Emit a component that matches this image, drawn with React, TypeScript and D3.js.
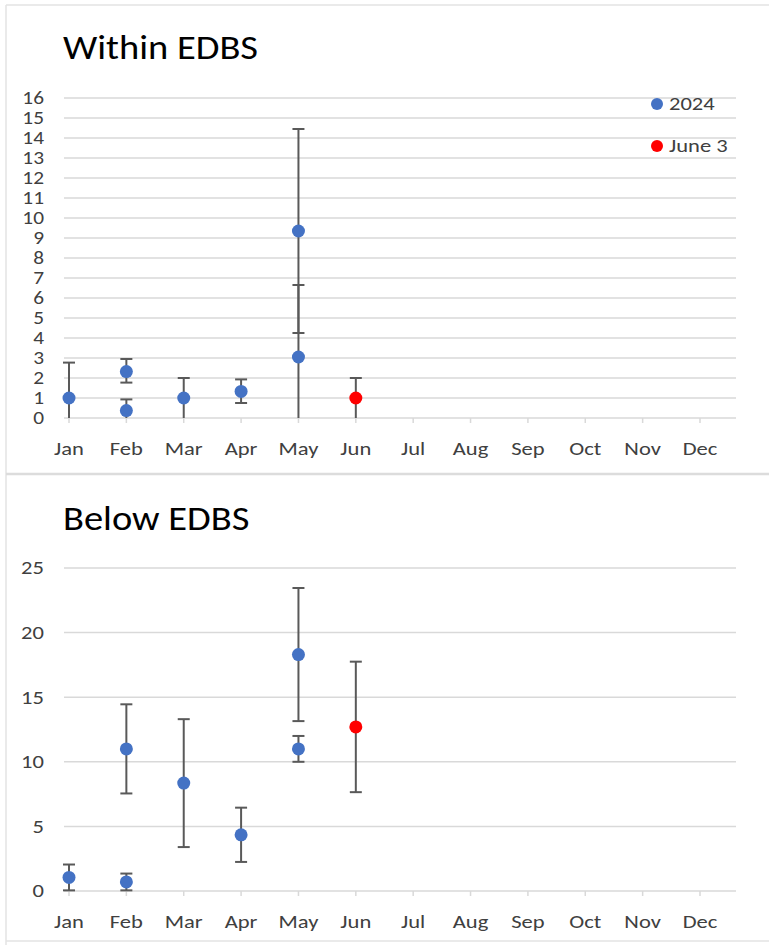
import React from "react";
import * as d3 from "d3";

const months = ["Jan", "Feb", "Mar", "Apr", "May", "Jun", "Jul", "Aug", "Sep", "Oct", "Nov", "Dec"];

// Within EDBS
const withinMonth = ["Jan", "Feb", "Feb", "Mar", "Apr", "May", "May"];
const withinValue = [1.0, 2.32, 0.37, 1.0, 1.33, 9.35, 3.05];
const withinErrUp = [1.77, 0.63, 0.56, 1.0, 0.6, 5.1, 3.6];
const withinErrDown = [1.77, 0.55, 0.56, 1.0, 0.58, 5.1, 3.6];
const withinJuneMonth = ["Jun"];
const withinJuneValue = [1.0];
const withinJuneErrUp = [1.0];
const withinJuneErrDown = [1.0];
const withinTicks = d3.range(0, 17);

// Below EDBS
const belowMonth = ["Jan", "Feb", "Feb", "Mar", "Apr", "May", "May"];
const belowValue = [1.05, 11.0, 0.7, 8.35, 4.35, 18.3, 11.0];
const belowErrUp = [1.0, 3.45, 0.65, 4.95, 2.1, 5.15, 1.0];
const belowErrDown = [1.0, 3.45, 0.65, 4.95, 2.1, 5.15, 1.0];
const belowJuneMonth = ["Jun"];
const belowJuneValue = [12.7];
const belowJuneErrUp = [5.05];
const belowJuneErrDown = [5.05];
const belowTicks = [0, 5, 10, 15, 20, 25];

const legendLabels = ["2024", "June 3"];

const BLUE = "#4472C4";
const RED = "#FF0000";
const GRID = "#D9D9D9";
const ERR = "#595959";
const TXT = "#404040";
const FONT = "Carlito, Lato, 'Open Sans', sans-serif";
const SX = 1.22;

const x = d3.scalePoint<string>().domain(months).range([69, 700]);
const AX_L = 64;
const AX_R = 736;

type Pt = { m: string; v: number; up: number; dn: number };

function zip(ms: string[], vs: number[], ups: number[], dns: number[]): Pt[] {
  return ms.map((m, i) => ({ m, v: vs[i], up: ups[i], dn: dns[i] }));
}

function T({
  x: tx,
  y: ty,
  size,
  anchor = "start",
  sx = SX,
  fill = TXT,
  dy,
  children,
}: {
  x: number;
  y: number;
  size: number;
  anchor?: string;
  sx?: number;
  fill?: string;
  dy?: string;
  children: React.ReactNode;
}) {
  return (
    <text
      transform={`translate(${tx},${ty}) scale(${sx},1)`}
      x={0}
      y={0}
      dy={dy}
      textAnchor={anchor}
      fontSize={size}
      fill={fill}
    >
      {children}
    </text>
  );
}

function Points({ pts, y, color }: { pts: Pt[]; y: d3.ScaleLinear<number, number>; color: string }) {
  return (
    <g>
      {pts.map((p, i) => {
        const cx = x(p.m)!;
        const hi = p.v + p.up;
        const loRaw = p.v - p.dn;
        const lo = Math.max(0, loRaw);
        return (
          <g key={"e" + i}>
            <line x1={cx} x2={cx} y1={y(hi)} y2={y(lo)} stroke={ERR} strokeWidth={2} />
            <line x1={cx - 6} x2={cx + 6} y1={y(hi)} y2={y(hi)} stroke={ERR} strokeWidth={2} />
            {loRaw > 0.02 && (
              <line x1={cx - 6} x2={cx + 6} y1={y(lo)} y2={y(lo)} stroke={ERR} strokeWidth={2} />
            )}
          </g>
        );
      })}
      {pts.map((p, i) => (
        <circle key={"c" + i} cx={x(p.m)!} cy={y(p.v)} r={6.5} fill={color} />
      ))}
    </g>
  );
}

function Panel({
  title,
  titleY,
  y,
  ticks,
  gridTicks,
  pts,
  june,
  labelY,
  legend,
  tickFont,
}: {
  title: string;
  titleY: number;
  y: d3.ScaleLinear<number, number>;
  ticks: number[];
  gridTicks: number[];
  pts: Pt[];
  june: Pt[];
  labelY: number;
  legend: boolean;
  tickFont: number;
}) {
  const y0 = y(0);
  return (
    <g fontFamily={FONT}>
      <T x={63} y={titleY} size={35} sx={1.1} fill="#000">
        {title}
      </T>
      {gridTicks.map((t) => (
        <line key={"g" + t} x1={AX_L} x2={AX_R} y1={y(t)} y2={y(t)} stroke={GRID} strokeWidth={1.5} />
      ))}
      <line x1={AX_L} x2={AX_R} y1={y0} y2={y0} stroke={GRID} strokeWidth={1.5} />
      {months.map((m) => (
        <line key={"t" + m} x1={x(m)!} x2={x(m)!} y1={y0} y2={y0 + 5} stroke={GRID} strokeWidth={1.5} />
      ))}
      {ticks.map((t) => (
        <T key={"yl" + t} x={44} y={y(t)} dy="0.35em" anchor="end" size={tickFont}>
          {t}
        </T>
      ))}
      {months.map((m) => (
        <T key={"xl" + m} x={x(m)!} y={labelY} anchor="middle" size={18.5}>
          {m}
        </T>
      ))}
      <Points pts={pts} y={y} color={BLUE} />
      <Points pts={june} y={y} color={RED} />
      {legend && (
        <g>
          <circle cx={657} cy={104} r={6} fill={BLUE} />
          <T x={669} y={104} dy="0.35em" size={18.5}>
            {legendLabels[0]}
          </T>
          <circle cx={657} cy={146} r={6} fill={RED} />
          <T x={669} y={146} dy="0.35em" size={18.5}>
            {legendLabels[1]}
          </T>
        </g>
      )}
    </g>
  );
}

export default function App() {
  const yTop = d3.scaleLinear().domain([0, 16]).range([418, 98]);
  const yBot = d3.scaleLinear().domain([0, 25]).range([891, 568]);
  return (
    <svg
      width={769}
      height={945}
      style={{ position: "absolute", left: 0, top: 0, background: "#fff" }}
    >
      <rect x={0} y={0} width={769} height={945} fill="#fff" />
      <line x1={6} x2={769} y1={5} y2={5} stroke="#E3E3E3" strokeWidth={1.5} />
      <line x1={6} x2={6} y1={5} y2={945} stroke="#E3E3E3" strokeWidth={1.5} />
      <line x1={6} x2={769} y1={474} y2={474} stroke="#DCDCDC" strokeWidth={2.5} />
      <line x1={6} x2={769} y1={941} y2={941} stroke="#E3E3E3" strokeWidth={1.5} />
      <Panel
        title="Within EDBS"
        titleY={59}
        y={yTop}
        ticks={withinTicks}
        gridTicks={withinTicks.filter((t) => t > 0)}
        pts={zip(withinMonth, withinValue, withinErrUp, withinErrDown)}
        june={zip(withinJuneMonth, withinJuneValue, withinJuneErrUp, withinJuneErrDown)}
        labelY={455}
        legend={true}
        tickFont={17.5}
      />
      <Panel
        title="Below EDBS"
        titleY={530}
        y={yBot}
        ticks={belowTicks}
        gridTicks={belowTicks.filter((t) => t > 0)}
        pts={zip(belowMonth, belowValue, belowErrUp, belowErrDown)}
        june={zip(belowJuneMonth, belowJuneValue, belowJuneErrUp, belowJuneErrDown)}
        labelY={928}
        legend={false}
        tickFont={18.5}
      />
    </svg>
  );
}
